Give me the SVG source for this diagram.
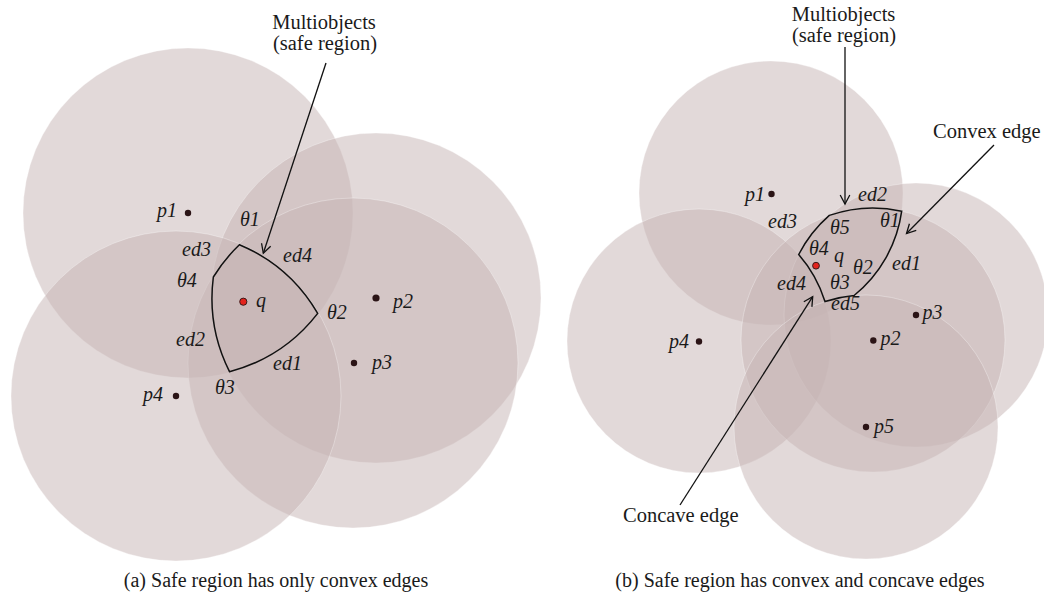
<svg xmlns="http://www.w3.org/2000/svg" width="1044" height="603" viewBox="0 0 1044 603">
<style>
.disk{fill:#c5b3b3;fill-opacity:0.5;stroke:#ffffff;stroke-opacity:0.4;stroke-width:0.8}
.lbl{font-family:"Liberation Serif",serif;font-style:italic;font-size:20px;fill:#1a1a1a}
.ann{font-family:"Liberation Serif",serif;font-size:20.5px;fill:#1a1a1a}
.cap{font-family:"Liberation Serif",serif;font-size:20px;fill:#1a1a1a}
.dot{fill:#2b1416}
.qdot{fill:#e3231d;stroke:#3a1a1a;stroke-width:1}
.region{fill:none;stroke:#111;stroke-width:1.5;stroke-linejoin:miter}
.arrow{fill:none;stroke:#111;stroke-width:1.3}
</style>
<defs>
<marker id="v" markerUnits="userSpaceOnUse" markerWidth="24" markerHeight="24" viewBox="-12 -12 24 24" refX="0" refY="0" orient="auto">
<path d="M-9,-4.8 L0,0 L-9,4.8" fill="none" stroke="#111" stroke-width="1.3"/>
</marker>
</defs>
<rect width="1044" height="603" fill="#ffffff"/>

<!-- (a) left diagram -->
<g id="a-disks">
<circle class="disk" cx="188" cy="213" r="165"/>
<circle class="disk" cx="376" cy="298" r="165"/>
<circle class="disk" cx="353" cy="363" r="165"/>
<circle class="disk" cx="176" cy="396" r="165"/>
</g>
<g id="a-region">
<path class="region" d="M239.4,244.7 A164,164 0 0 1 317.7,313.4 A164,164 0 0 1 229.5,371.7 A164,164 0 0 1 213.35,277 A164,164 0 0 1 239.4,244.7 Z"/>
</g>
<g id="a-p1"><circle class="dot" cx="188" cy="213" r="3.2"/><text class="lbl" x="157" y="217">p1</text></g>
<g id="a-p2"><circle class="dot" cx="376" cy="298" r="3.6"/><text class="lbl" x="393" y="308">p2</text></g>
<g id="a-p3"><circle class="dot" cx="354" cy="363" r="3.2"/><text class="lbl" x="372" y="368.5">p3</text></g>
<g id="a-p4"><circle class="dot" cx="176" cy="396" r="3.2"/><text class="lbl" x="143" y="401">p4</text></g>
<g id="a-q"><circle class="qdot" cx="243.3" cy="301.7" r="3.6"/><text class="lbl" x="256" y="306.5">q</text></g>
<g id="a-labels">
<text class="lbl" x="240" y="225.5">θ1</text>
<text class="lbl" x="327" y="318.5">θ2</text>
<text class="lbl" x="215" y="393.5">θ3</text>
<text class="lbl" x="177" y="287">θ4</text>
<text class="lbl" x="273" y="370">ed1</text>
<text class="lbl" x="176" y="346">ed2</text>
<text class="lbl" x="182" y="255.5">ed3</text>
<text class="lbl" x="283" y="262">ed4</text>
</g>
<g id="a-note">
<text class="ann" x="324" y="29" text-anchor="middle">Multiobjects</text>
<text class="ann" x="325" y="50" text-anchor="middle">(safe region)</text>
</g>
<text class="cap" x="276" y="587" text-anchor="middle">(a)  Safe region has only convex edges</text>

<!-- (b) right diagram -->
<g id="b-disks">
<circle class="disk" cx="771" cy="193" r="132"/>
<circle class="disk" cx="699" cy="341" r="132"/>
<circle class="disk" cx="916" cy="315" r="132"/>
<circle class="disk" cx="873" cy="340" r="132"/>
<circle class="disk" cx="866" cy="427" r="132"/>
</g>
<g id="b-region">
<path class="region" d="M829.3,215.4 A132,132 0 0 1 901.7,211.2 A132,132 0 0 1 854.1,295.5 A132,132 0 0 0 825,301.5 A132,132 0 0 0 798.7,254.5 A132,132 0 0 1 829.3,215.4 Z"/>
</g>
<g id="b-p1"><circle class="dot" cx="771.5" cy="194" r="3.2"/><text class="lbl" x="745" y="201">p1</text></g>
<g id="b-p2"><circle class="dot" cx="873.3" cy="340.5" r="3.2"/><text class="lbl" x="880.5" y="345">p2</text></g>
<g id="b-p3"><circle class="dot" cx="916" cy="315" r="3.2"/><text class="lbl" x="922.5" y="319">p3</text></g>
<g id="b-p4"><circle class="dot" cx="699" cy="341.5" r="3.2"/><text class="lbl" x="669" y="348">p4</text></g>
<g id="b-p5"><circle class="dot" cx="866" cy="427" r="3.2"/><text class="lbl" x="874" y="433">p5</text></g>
<g id="b-q"><circle class="qdot" cx="816" cy="265.7" r="3.4"/><text class="lbl" x="834" y="262">q</text></g>
<g id="b-labels">
<text class="lbl" x="880" y="226.5">θ1</text>
<text class="lbl" x="853" y="274">θ2</text>
<text class="lbl" x="830" y="288.5">θ3</text>
<text class="lbl" x="809" y="255">θ4</text>
<text class="lbl" x="830" y="234">θ5</text>
<text class="lbl" x="892" y="270">ed1</text>
<text class="lbl" x="858" y="200.5">ed2</text>
<text class="lbl" x="768" y="228">ed3</text>
<text class="lbl" x="777" y="289.5">ed4</text>
<text class="lbl" x="831" y="309.5">ed5</text>
</g>
<g id="b-note">
<text class="ann" x="843.5" y="21" text-anchor="middle">Multiobjects</text>
<text class="ann" x="844" y="42" text-anchor="middle">(safe region)</text>
</g>
<g id="b-convex"><text class="ann" x="933" y="138">Convex edge</text></g>
<g id="b-concave"><text class="ann" x="623" y="522">Concave edge</text></g>
<text class="cap" x="800" y="587" text-anchor="middle">(b)  Safe region has convex and concave edges</text>

<g id="connectors">
<line class="arrow" x1="326" y1="63" x2="263.3" y2="253.3" marker-end="url(#v)"/>
<line class="arrow" x1="845" y1="47" x2="845" y2="204" marker-end="url(#v)"/>
<line class="arrow" x1="994" y1="145" x2="906.5" y2="233.5" marker-end="url(#v)"/>
<line class="arrow" x1="680" y1="505" x2="812.7" y2="296.7" marker-end="url(#v)"/>
</g>
</svg>
